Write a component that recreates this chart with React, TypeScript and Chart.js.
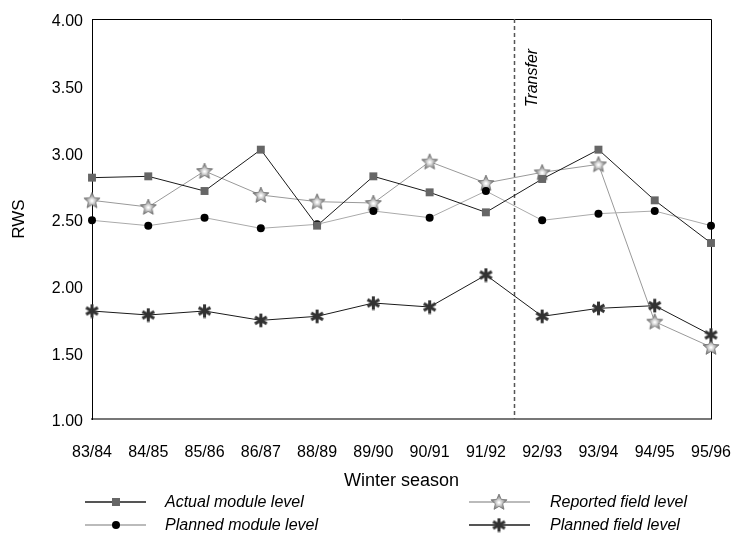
import React, { useEffect, useRef } from "react";
import { Chart, registerables } from "chart.js";

Chart.register(...registerables);

const seasons = ["83/84", "84/85", "85/86", "86/87", "88/89", "89/90", "90/91", "91/92", "92/93", "93/94", "94/95", "95/96"];
const actualModule = [2.81, 2.82, 2.71, 3.02, 2.45, 2.82, 2.7, 2.55, 2.8, 3.02, 2.64, 2.32];
const plannedModule = [2.49, 2.45, 2.51, 2.43, 2.46, 2.56, 2.51, 2.71, 2.49, 2.54, 2.56, 2.45];
const reportedField = [2.64, 2.59, 2.86, 2.68, 2.63, 2.62, 2.93, 2.77, 2.85, 2.91, 1.73, 1.54];
const plannedField = [1.81, 1.78, 1.81, 1.74, 1.77, 1.87, 1.84, 2.08, 1.77, 1.83, 1.85, 1.63];
const yMin = 1.0;
const yMax = 4.0;
const yStep = 0.5;
const transferAfter = "91/92";
const transferLabel = "Transfer";
const xTitle = "Winter season";
const yTitle = "RWS";
const legendLabels = ["Actual module level", "Planned module level", "Reported field level", "Planned field level"];

const FONT = "'Liberation Sans', Arial, Helvetica, sans-serif";
const NARROW = "'Liberation Sans Narrow', 'Arial Narrow', 'Liberation Sans', Arial, sans-serif";

function makeStar(): HTMLCanvasElement {
  const c = document.createElement("canvas");
  c.width = 18;
  c.height = 18;
  const g = c.getContext("2d")!;
  const cx = 9, cy = 9.5, ro = 8.5, ri = 3.9;
  g.beginPath();
  for (let i = 0; i < 10; i++) {
    const r = i % 2 === 0 ? ro : ri;
    const a = -Math.PI / 2 + (i * Math.PI) / 5;
    const px = cx + r * Math.cos(a);
    const py = cy + r * Math.sin(a);
    if (i === 0) g.moveTo(px, py);
    else g.lineTo(px, py);
  }
  g.closePath();
  const grad = g.createRadialGradient(cx, cy, 0.5, cx, cy, ro * 0.75);
  grad.addColorStop(0, "#ffffff");
  grad.addColorStop(0.4, "#d0d0d0");
  grad.addColorStop(1, "#858585");
  g.fillStyle = grad;
  g.fill();
  g.strokeStyle = "#6a6a6a";
  g.lineWidth = 0.7;
  g.stroke();
  return c;
}

function makeAsterisk(): HTMLCanvasElement {
  const c = document.createElement("canvas");
  c.width = 15;
  c.height = 15;
  const g = c.getContext("2d")!;
  g.strokeStyle = "#333";
  g.lineWidth = 3;
  const cx = 7.5, cy = 7.5, r = 6.8;
  for (let i = 0; i < 3; i++) {
    const a = Math.PI / 2 + (i * Math.PI) / 3;
    g.beginPath();
    g.moveTo(cx - r * Math.cos(a), cy - r * Math.sin(a));
    g.lineTo(cx + r * Math.cos(a), cy + r * Math.sin(a));
    g.stroke();
  }
  return c;
}

export default function App() {
  const ref = useRef<HTMLCanvasElement | null>(null);

  useEffect(() => {
    if (!ref.current) return;
    const star = makeStar();
    const asterisk = makeAsterisk();

    const overlayPlugin = {
      id: "overlay",
      beforeDatasetsDraw(chart: any) {
        const { ctx, chartArea, scales } = chart;
        const { left, right, top, bottom } = chartArea;
        ctx.save();
        ctx.strokeStyle = "#000";
        ctx.lineWidth = 1;
        ctx.beginPath();
        ctx.moveTo(left, top + 0.5);
        ctx.lineTo(right + 0.5, top + 0.5);
        ctx.lineTo(right + 0.5, bottom);
        ctx.stroke();
        const idx = seasons.indexOf(transferAfter);
        const tx = Math.round((scales.x.getPixelForValue(idx) + scales.x.getPixelForValue(idx + 1)) / 2) + 0.5;
        ctx.setLineDash([4, 3]);
        ctx.strokeStyle = "#555";
        ctx.lineWidth = 1.5;
        ctx.beginPath();
        ctx.moveTo(tx, top);
        ctx.lineTo(tx, bottom);
        ctx.stroke();
        ctx.setLineDash([]);
        ctx.translate(tx + 18, top + 59);
        ctx.rotate(-Math.PI / 2);
        ctx.fillStyle = "#000";
        ctx.font = "italic 16px " + FONT;
        ctx.textAlign = "center";
        ctx.textBaseline = "middle";
        ctx.fillText(transferLabel, 0, 0);
        ctx.restore();
      },
      afterDraw(chart: any) {
        const { ctx } = chart;
        const items = [
          { ds: 0, x1: 85, x2: 146, mx: 116, tx: 165, y: 502, line: "#555" },
          { ds: 1, x1: 85, x2: 146, mx: 116, tx: 165, y: 525, line: "#bbb" },
          { ds: 2, x1: 469, x2: 530, mx: 499, tx: 550, y: 502, line: "#bbb" },
          { ds: 3, x1: 469, x2: 530, mx: 499, tx: 550, y: 525, line: "#555" },
        ];
        ctx.save();
        for (const it of items) {
          ctx.strokeStyle = it.line;
          ctx.lineWidth = 2;
          ctx.beginPath();
          ctx.moveTo(it.x1, it.y);
          ctx.lineTo(it.x2, it.y);
          ctx.stroke();
          if (it.ds === 0) {
            ctx.fillStyle = "#666";
            ctx.fillRect(it.mx - 4, it.y - 4, 8, 8);
          } else if (it.ds === 1) {
            ctx.fillStyle = "#000";
            ctx.beginPath();
            ctx.arc(it.mx, it.y, 4, 0, Math.PI * 2);
            ctx.fill();
          } else if (it.ds === 2) {
            ctx.drawImage(star, it.mx - 9, it.y - 9);
          } else {
            ctx.drawImage(asterisk, it.mx - 7.5, it.y - 7.5);
          }
          ctx.fillStyle = "#000";
          ctx.font = "italic 16px " + FONT;
          ctx.textAlign = "left";
          ctx.textBaseline = "middle";
          ctx.fillText(legendLabels[it.ds], it.tx, it.y + 1);
        }
        ctx.restore();
      },
    };

    const chart = new Chart(ref.current, {
      type: "line",
      data: {
        labels: seasons,
        datasets: [
          {
            label: legendLabels[0],
            data: actualModule,
            borderColor: "#1a1a1a",
            borderWidth: 1,
            pointStyle: "rect",
            pointRadius: 5.6,
            pointBackgroundColor: "#666",
            pointBorderColor: "#666",
            pointBorderWidth: 0,
            order: 2,
            clip: false,
          },
          {
            label: legendLabels[1],
            data: plannedModule,
            borderColor: "#aaa",
            borderWidth: 1,
            pointStyle: "circle",
            pointRadius: 4,
            pointBackgroundColor: "#000",
            pointBorderColor: "#000",
            pointBorderWidth: 0,
            order: 3,
            clip: false,
          },
          {
            label: legendLabels[2],
            data: reportedField,
            borderColor: "#999",
            borderWidth: 1,
            pointStyle: star as any,
            pointRadius: 8,
            order: 4,
            clip: false,
          },
          {
            label: legendLabels[3],
            data: plannedField,
            borderColor: "#1a1a1a",
            borderWidth: 1,
            pointStyle: asterisk as any,
            pointRadius: 7,
            order: 1,
            clip: false,
          },
        ] as any,
      },
      options: {
        responsive: false,
        animation: false,
        devicePixelRatio: 1,
        layout: { padding: { left: 0, right: 22, top: 19, bottom: 0 } },
        plugins: { legend: { display: false }, tooltip: { enabled: false } },
        scales: {
          x: {
            type: "category",
            offset: false,
            grid: { display: false, drawTicks: false },
            border: { display: true, color: "#777", width: 2 },
            ticks: { color: "#000", font: { family: FONT, size: 16 }, padding: 24, maxRotation: 0, autoSkip: false },
            title: { display: true, text: xTitle, color: "#000", font: { family: FONT, size: 18 }, padding: { top: 0, bottom: 46 } },
            afterFit: (s: any) => {
              s.height = 119;
              s.paddingLeft = 0;
              s.paddingRight = 0;
            },
          },
          y: {
            min: yMin,
            max: yMax,
            grid: { display: false, drawTicks: false },
            border: { display: true, color: "#000", width: 1 },
            ticks: {
              stepSize: yStep,
              color: "#000",
              font: { family: FONT, size: 16 },
              padding: 9,
              labelOffset: 3,
              callback: (v: any) => Number(v).toFixed(2),
            },
            title: { display: true, text: yTitle, color: "#000", font: { family: NARROW, size: 17 }, padding: { top: 9, bottom: 0 } },
            afterFit: (s: any) => {
              s.width = 92;
              s.paddingTop = 0;
              s.paddingBottom = 0;
            },
          },
        },
      } as any,
      plugins: [overlayPlugin],
    });
    return () => chart.destroy();
  }, []);

  return (
    <div style={{ position: "absolute", left: 0, top: 0, width: 733, height: 538, background: "#fff" }}>
      <canvas ref={ref} width={733} height={538} style={{ display: "block" }} />
    </div>
  );
}
